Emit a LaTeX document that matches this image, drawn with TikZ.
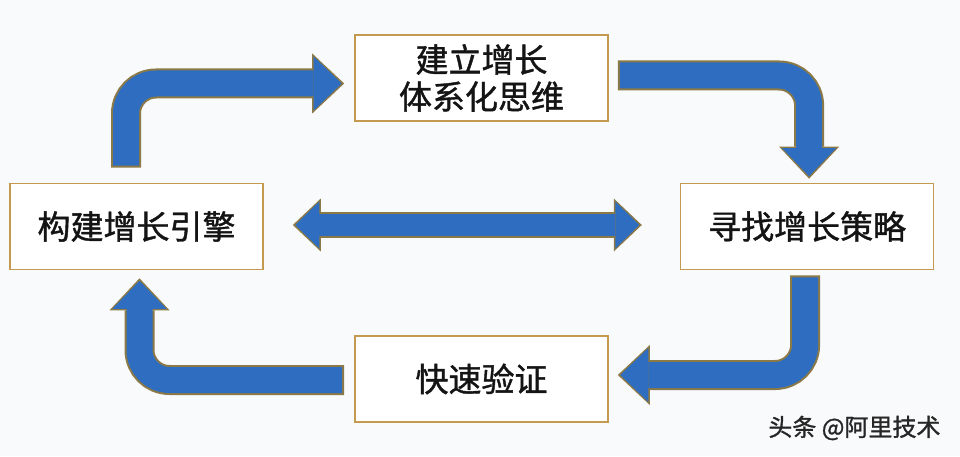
\documentclass[tikz,border=0pt]{standalone}
\usepackage{fontspec}
\usepackage{xcolor}
\usetikzlibrary{positioning, arrows.meta}
\newfontfamily\cjk[FakeBold=1.2]{Noto Sans CJK SC}
\definecolor{LoopBlue}{HTML}{2E6DBF}
\definecolor{LoopEdge}{HTML}{8C7A46}
\definecolor{StageEdge}{HTML}{C49A50}
\definecolor{PageBg}{HTML}{F9FAFC}

\begin{document}
\begin{tikzpicture}[x=1pt, y=1pt, node distance=416pt,
    every node/.style={font=\cjk\fontsize{33}{37}\selectfont, text=black!92},
    stage/.style={draw=StageEdge, line width=1.6pt, fill=white, align=center, minimum width=253pt, minimum height=86pt, inner sep=0pt},
    loop/.style={draw=LoopBlue, line width=26pt, rounded corners=30pt, shorten <=2pt, shorten >=2.5pt,
      -{Triangle[width=54pt, length=28pt, line width'=0pt]},
      preaction={draw=LoopEdge, line width=30pt, shorten <=0pt, shorten >=0pt,
        arrows={-{Triangle[width=60pt, length=32pt, line width'=0pt]}}}},
    twoway/.style={draw=LoopBlue, line width=22pt, shorten <=2.5pt, shorten >=2.5pt,
      {Triangle[width=47pt, length=24pt, line width'=0pt]}-{Triangle[width=47pt, length=24pt, line width'=0pt]},
      preaction={draw=LoopEdge, line width=26pt, shorten <=0pt, shorten >=0pt,
        arrows={{Triangle[width=53pt, length=28pt, line width'=0pt]}-{Triangle[width=53pt, length=28pt, line width'=0pt]}}}}]
    \fill[PageBg] (0,0) rectangle (960,456);

    \node[stage] (top) at (481.5,378) {建立增长\\体系化思维};
    \node[stage] (lft) at (136.5,229.5) {构建增长引擎};
    \node[stage, right=of lft] (rgt) {寻找增长策略};
    \node[stage] (bot) at (481.5,77) {快速验证};

    \draw[loop] ([xshift=-10.5pt, yshift=15pt]lft.north) |- ([xshift=-10pt, yshift=-5.5pt]top.west);
    \draw[loop] ([xshift=9pt, yshift=2.5pt]top.east) -| ([xshift=2pt, yshift=4pt]rgt.north);
    \draw[loop] ([xshift=-2pt, yshift=-5pt]rgt.south) |- ([xshift=9pt, yshift=4pt]bot.east);
    \draw[loop] ([xshift=-10pt, yshift=-1pt]bot.west) -| ([xshift=3pt, yshift=-8pt]lft.south);
    \draw[twoway] ([xshift=29pt, yshift=1.5pt]lft.east) -- ([xshift=-38pt, yshift=1.5pt]rgt.west);

    \node[font=\cjk\fontsize{24}{28}\selectfont, text=black!85, anchor=east] (mark) at (944,28) {头条 @阿里技术};
  \end{tikzpicture}
\end{document}
